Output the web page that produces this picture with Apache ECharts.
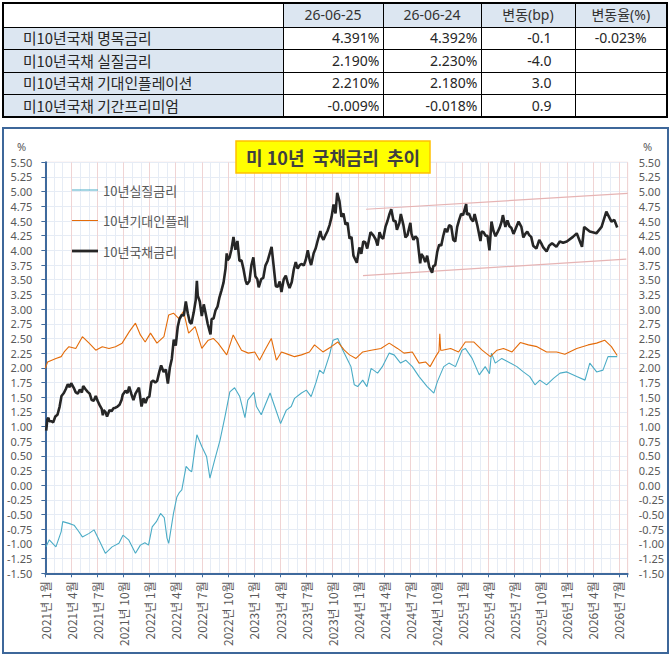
<!DOCTYPE html>
<html><head><meta charset="utf-8">
<script src="https://cdn.jsdelivr.net/npm/echarts/dist/echarts.min.js"></script>
<style>
html,body{margin:0;padding:0;background:#fff;width:672px;height:655px;overflow:hidden;}
#tbl{position:absolute;left:2px;top:2px;width:666px;border-collapse:collapse;table-layout:fixed;border:2px solid #000;font-family:'Noto Sans','Noto Sans CJK KR',sans-serif;color:#262626;}
#tbl td{border:1px solid #000;padding:0;font-size:14px;line-height:18px;white-space:nowrap;overflow:hidden;}
#tbl tr{height:22.5px;}
#tbl tr.h{height:24px;}
#tbl td.hd{background:#DCE6F1;text-align:center;color:#333;}
#tbl td.lb{background:#DCE6F1;text-align:left;padding-left:19px;font-size:14.8px;font-family:'Noto Sans CJK KR','Noto Sans',sans-serif;}
#tbl td.v{text-align:right;padding-right:3px;}
#tbl td.bp{text-align:right;padding-right:23px;}
#tbl td.pc{text-align:center;}
#chartBox{position:absolute;left:2px;top:127px;width:667px;height:527px;border:2px solid #3D679A;box-sizing:border-box;}
#chart{width:663px;height:523px;}
</style>
</head><body>
<table id="tbl"></table>
<div id="chartBox"><div id="chart"></div></div>
<script>
// ---------- table data ----------
const tableHeader = ["", "26-06-25", "26-06-24", "변동(bp)", "변동율(%)"];
const tableLabels = ["미10년국채 명목금리", "미10년국채 실질금리", "미10년국채 기대인플레이션", "미10년국채 기간프리미엄"];
const colToday = ["4.391%", "2.190%", "2.210%", "-0.009%"];
const colPrev = ["4.392%", "2.230%", "2.180%", "-0.018%"];
const colChgBp = ["-0.1", "-4.0", "3.0", "0.9"];
const colChgPct = ["-0.023%", "", "", ""];

// ---------- chart data ----------
const seriesNames = ["10년실질금리", "10년기대인플레", "10년국채금리"];
const realRate = [
["2021-01-03",-1.05],["2021-01-15",-0.93],["2021-02-07",-1.05],["2021-02-24",-0.79],["2021-03-01",-0.62],
["2021-03-23",-0.65],["2021-04-10",-0.68],["2021-04-25",-0.78],["2021-05-09",-0.88],["2021-06-02",-0.82],
["2021-06-19",-0.76],["2021-07-06",-0.93],["2021-07-29",-1.16],["2021-08-22",-1.05],["2021-09-15",-0.99],
["2021-09-29",-0.85],["2021-10-19",-0.93],["2021-11-12",-1.16],["2021-11-29",-1.02],["2021-12-15",-0.98],
["2021-12-28",-1.02],["2022-01-10",-0.71],["2022-01-25",-0.62],["2022-02-08",-0.48],["2022-02-20",-0.55],
["2022-03-01",-0.90],["2022-03-07",-0.99],["2022-03-24",-0.48],["2022-04-05",-0.20],["2022-04-14",-0.12],
["2022-04-22",-0.08],["2022-05-07",0.32],["2022-05-18",0.26],["2022-05-27",0.23],["2022-06-14",0.86],
["2022-07-01",0.66],["2022-07-18",0.49],["2022-07-30",0.12],["2022-08-16",0.43],["2022-09-04",0.77],
["2022-09-21",1.17],["2022-10-08",1.59],["2022-10-25",1.66],["2022-11-12",1.51],["2022-11-30",1.15],
["2022-12-10",1.45],["2023-01-01",1.58],["2023-01-10",1.34],["2023-01-27",1.20],["2023-02-25",1.57],
["2023-03-13",1.34],["2023-04-03",1.05],["2023-04-23",1.28],["2023-05-10",1.34],["2023-05-22",1.48],
["2023-06-15",1.57],["2023-07-02",1.62],["2023-07-19",1.51],["2023-08-06",1.76],["2023-08-18",1.96],
["2023-09-01",1.90],["2023-09-22",2.22],["2023-10-04",2.47],["2023-10-21",2.50],["2023-11-08",2.30],
["2023-11-25",2.13],["2023-12-06",2.02],["2023-12-18",1.71],["2023-12-30",1.68],["2024-01-17",1.79],
["2024-02-01",1.68],["2024-02-15",1.99],["2024-03-08",1.91],["2024-03-25",2.02],["2024-04-18",2.25],
["2024-05-05",2.22],["2024-05-28",2.08],["2024-06-15",2.13],["2024-07-08",2.02],["2024-08-01",1.85],
["2024-08-30",1.68],["2024-09-22",1.57],["2024-10-04",1.76],["2024-10-27",2.02],["2024-11-14",2.08],
["2024-12-07",2.02],["2024-12-30",2.30],["2025-01-11",2.33],["2025-02-04",2.16],["2025-02-27",1.88],
["2025-03-20",2.02],["2025-04-04",1.90],["2025-04-11",2.25],["2025-04-24",2.08],["2025-05-17",2.16],
["2025-06-16",2.08],["2025-07-09",2.02],["2025-08-01",1.93],["2025-08-24",1.85],["2025-09-11",1.71],
["2025-09-28",1.79],["2025-10-22",1.71],["2025-11-15",1.82],["2025-12-08",1.91],["2026-01-01",1.93],
["2026-02-05",1.85],["2026-03-04",1.79],["2026-03-21",2.08],["2026-04-14",1.93],["2026-05-06",1.96],
["2026-05-24",2.19],["2026-06-11",2.19],["2026-06-25",2.19]
];
const breakeven = [
["2021-01-01",1.99],["2021-01-09",2.10],["2021-02-07",2.16],["2021-02-24",2.19],["2021-03-06",2.27],
["2021-03-23",2.36],["2021-04-16",2.33],["2021-05-09",2.53],["2021-06-02",2.42],["2021-06-25",2.30],
["2021-07-18",2.36],["2021-08-11",2.33],["2021-09-03",2.36],["2021-09-26",2.42],["2021-10-22",2.62],
["2021-11-12",2.76],["2021-11-29",2.56],["2021-12-16",2.44],["2022-01-04",2.59],["2022-01-27",2.42],
["2022-02-19",2.53],["2022-03-07",2.90],["2022-03-24",2.93],["2022-04-11",2.84],["2022-04-28",2.96],
["2022-05-16",2.59],["2022-06-08",2.70],["2022-07-01",2.33],["2022-07-24",2.47],["2022-08-11",2.50],
["2022-08-28",2.42],["2022-09-27",2.22],["2022-10-20",2.56],["2022-11-18",2.30],["2022-12-12",2.25],
["2023-01-04",2.27],["2023-01-21",2.13],["2023-02-08",2.30],["2023-03-01",2.50],["2023-03-19",2.13],
["2023-04-06",2.27],["2023-05-04",2.22],["2023-05-22",2.19],["2023-06-15",2.22],["2023-07-13",2.27],
["2023-07-31",2.39],["2023-08-30",2.27],["2023-09-28",2.36],["2023-10-21",2.44],["2023-11-13",2.30],
["2023-12-01",2.22],["2023-12-24",2.16],["2024-01-17",2.27],["2024-02-15",2.30],["2024-03-20",2.33],
["2024-04-18",2.42],["2024-05-17",2.33],["2024-06-09",2.25],["2024-07-08",2.27],["2024-08-01",2.08],
["2024-08-24",2.10],["2024-09-09",2.02],["2024-09-28",2.19],["2024-10-10",2.28],["2024-10-13",2.58],
["2024-10-16",2.30],["2024-10-22",2.30],["2024-11-20",2.33],["2024-12-18",2.27],["2025-01-11",2.44],
["2025-02-09",2.44],["2025-03-09",2.30],["2025-04-07",2.19],["2025-04-30",2.30],["2025-05-23",2.33],
["2025-06-22",2.27],["2025-07-21",2.43],["2025-08-19",2.39],["2025-09-18",2.36],["2025-10-22",2.27],
["2025-11-26",2.27],["2025-12-25",2.23],["2026-02-05",2.33],["2026-03-15",2.39],["2026-04-14",2.42],
["2026-05-12",2.47],["2026-06-05",2.36],["2026-06-25",2.21]
];
const nominal = [
["2021-01-04",0.93],["2021-01-08",1.12],["2021-01-12",1.15],["2021-01-15",1.09],["2021-01-22",1.09],
["2021-01-29",1.07],["2021-02-05",1.17],["2021-02-12",1.20],["2021-02-19",1.34],["2021-02-25",1.52],
["2021-03-05",1.57],["2021-03-12",1.64],["2021-03-19",1.72],["2021-03-26",1.67],["2021-03-31",1.74],
["2021-04-09",1.66],["2021-04-16",1.58],["2021-04-23",1.56],["2021-04-30",1.63],["2021-05-07",1.58],
["2021-05-12",1.69],["2021-05-21",1.63],["2021-05-28",1.59],["2021-06-04",1.56],["2021-06-11",1.45],
["2021-06-18",1.44],["2021-06-25",1.52],["2021-07-02",1.43],["2021-07-09",1.36],["2021-07-16",1.30],
["2021-07-20",1.19],["2021-07-23",1.28],["2021-07-30",1.24],["2021-08-04",1.17],["2021-08-13",1.28],
["2021-08-20",1.26],["2021-08-27",1.31],["2021-09-03",1.32],["2021-09-10",1.34],["2021-09-17",1.37],
["2021-09-24",1.45],["2021-09-28",1.54],["2021-10-08",1.61],["2021-10-15",1.57],["2021-10-21",1.68],
["2021-10-29",1.55],["2021-11-05",1.45],["2021-11-12",1.56],["2021-11-24",1.66],["2021-12-03",1.34],
["2021-12-10",1.48],["2021-12-17",1.40],["2021-12-24",1.49],["2021-12-31",1.51],
["2022-01-07",1.76],["2022-01-14",1.78],["2022-01-21",1.75],["2022-01-28",1.78],["2022-02-04",1.93],
["2022-02-10",2.04],["2022-02-18",1.93],["2022-02-25",1.97],["2022-03-04",1.73],["2022-03-11",2.00],
["2022-03-18",2.15],["2022-03-25",2.48],["2022-04-01",2.38],["2022-04-08",2.70],["2022-04-14",2.83],
["2022-04-22",2.90],["2022-04-29",2.89],["2022-05-06",3.13],["2022-05-13",2.93],["2022-05-20",2.78],
["2022-05-26",2.75],["2022-06-03",2.94],["2022-06-10",3.15],["2022-06-14",3.48],["2022-06-17",3.23],
["2022-06-24",3.13],["2022-07-01",2.88],["2022-07-08",3.08],["2022-07-15",2.92],["2022-07-22",2.75],
["2022-08-01",2.57],["2022-08-05",2.83],["2022-08-12",2.84],["2022-08-19",2.98],["2022-08-26",3.04],
["2022-09-02",3.20],["2022-09-09",3.32],["2022-09-16",3.45],["2022-09-23",3.69],["2022-09-27",3.95],
["2022-09-30",3.83],["2022-10-07",3.88],["2022-10-14",4.02],["2022-10-21",4.23],["2022-10-28",4.01],
["2022-11-04",4.16],["2022-11-11",3.82],["2022-11-18",3.83],["2022-11-25",3.68],["2022-12-02",3.49],
["2022-12-07",3.42],["2022-12-16",3.48],["2022-12-23",3.75],["2022-12-30",3.88],
["2023-01-06",3.56],["2023-01-13",3.51],["2023-01-18",3.37],["2023-01-27",3.51],["2023-02-03",3.53],
["2023-02-10",3.74],["2023-02-17",3.82],["2023-02-24",3.95],["2023-03-02",4.06],["2023-03-10",3.70],
["2023-03-17",3.39],["2023-03-24",3.38],["2023-03-31",3.47],["2023-04-06",3.29],["2023-04-14",3.51],
["2023-04-21",3.57],["2023-04-28",3.44],["2023-05-04",3.36],["2023-05-12",3.46],["2023-05-19",3.67],
["2023-05-26",3.80],["2023-06-02",3.69],["2023-06-09",3.75],["2023-06-16",3.77],["2023-06-23",3.74],
["2023-06-30",3.84],["2023-07-07",4.00],["2023-07-14",3.83],["2023-07-19",3.75],["2023-07-28",3.95],
["2023-08-04",4.03],["2023-08-11",4.16],["2023-08-21",4.33],["2023-08-25",4.24],["2023-09-01",4.18],
["2023-09-08",4.26],["2023-09-15",4.33],["2023-09-22",4.43],["2023-09-29",4.57],["2023-10-06",4.78],
["2023-10-13",4.63],["2023-10-19",4.98],["2023-10-27",4.84],["2023-11-03",4.57],["2023-11-10",4.63],
["2023-11-17",4.44],["2023-11-24",4.47],["2023-12-01",4.20],["2023-12-08",4.23],["2023-12-15",3.91],
["2023-12-27",3.79],
["2024-01-05",4.05],["2024-01-12",3.94],["2024-01-19",4.15],["2024-01-26",4.14],["2024-02-02",4.03],
["2024-02-13",4.31],["2024-02-23",4.25],["2024-03-01",4.19],["2024-03-08",4.08],["2024-03-15",4.31],
["2024-03-22",4.22],["2024-03-28",4.20],["2024-04-05",4.40],["2024-04-12",4.50],["2024-04-19",4.62],
["2024-04-25",4.70],["2024-05-03",4.50],["2024-05-10",4.50],["2024-05-15",4.35],["2024-05-24",4.47],
["2024-05-29",4.62],["2024-06-07",4.43],["2024-06-14",4.22],["2024-06-21",4.26],["2024-07-01",4.47],
["2024-07-05",4.28],["2024-07-12",4.18],["2024-07-19",4.24],["2024-07-26",4.20],["2024-08-05",3.78],
["2024-08-09",3.94],["2024-08-16",3.89],["2024-08-23",3.80],["2024-08-30",3.91],["2024-09-06",3.72],
["2024-09-16",3.62],["2024-09-20",3.73],["2024-09-27",3.75],["2024-10-04",3.98],["2024-10-11",4.10],
["2024-10-18",4.08],["2024-10-25",4.24],["2024-11-01",4.37],["2024-11-08",4.31],["2024-11-15",4.43],
["2024-11-22",4.41],["2024-11-29",4.18],["2024-12-06",4.15],["2024-12-13",4.40],["2024-12-20",4.52],
["2024-12-27",4.62],
["2025-01-03",4.60],["2025-01-14",4.79],["2025-01-17",4.61],["2025-01-24",4.63],["2025-01-31",4.54],
["2025-02-07",4.49],["2025-02-12",4.62],["2025-02-21",4.42],["2025-03-03",4.16],["2025-03-07",4.32],
["2025-03-14",4.31],["2025-03-21",4.25],["2025-03-28",4.25],["2025-04-04",4.00],["2025-04-11",4.49],
["2025-04-18",4.33],["2025-04-25",4.24],["2025-05-02",4.31],["2025-05-09",4.38],["2025-05-16",4.48],
["2025-05-21",4.60],["2025-05-30",4.40],["2025-06-06",4.51],["2025-06-13",4.41],["2025-06-20",4.38],
["2025-06-27",4.28],["2025-07-03",4.35],["2025-07-15",4.49],["2025-07-25",4.40],["2025-08-01",4.22],
["2025-08-08",4.28],["2025-08-15",4.32],["2025-08-22",4.26],["2025-08-29",4.23],["2025-09-05",4.08],
["2025-09-16",4.03],["2025-09-26",4.18],["2025-10-03",4.12],["2025-10-10",4.05],["2025-10-22",3.98],
["2025-10-31",4.08],["2025-11-10",4.12],["2025-11-25",4.06],["2025-12-07",4.15],["2025-12-19",4.13],
["2026-01-01",4.15],["2026-01-23",4.23],["2026-02-05",4.29],["2026-02-22",4.06],["2026-03-01",4.40],
["2026-03-21",4.32],["2026-04-13",4.29],["2026-05-01",4.40],["2026-05-18",4.66],["2026-06-05",4.49],
["2026-06-15",4.52],["2026-06-25",4.39]
];
const trendUpper = [["2024-01-29",4.70],["2026-08-01",4.97]];
const trendLower = [["2024-01-18",3.57],["2026-07-27",3.85]];

// ---------- build table ----------
(function(){
  const t = document.getElementById('tbl');
  const widths = [280, 100, 98, 94, 92];
  let html = '<colgroup>' + widths.map(w => '<col style="width:' + w + 'px">').join('') + '</colgroup>';
  html += '<tr class="h">' + tableHeader.map((h, i) => i === 0 ? '<td></td>' : '<td class="hd">' + h + '</td>').join('') + '</tr>';
  for (let r = 0; r < tableLabels.length; r++) {
    html += '<tr><td class="lb">' + tableLabels[r] + '</td><td class="v">' + colToday[r] + '</td><td class="v">' + colPrev[r] +
      '</td><td class="bp">' + colChgBp[r] + '</td><td class="pc">' + colChgPct[r] + '</td></tr>';
  }
  t.innerHTML = html;
})();

// ---------- chart ----------
function toIdx(s) {
  const p = s.split('-').map(Number);
  const dim = new Date(p[0], p[1], 0).getDate();
  return (p[0] - 2021) * 12 + (p[1] - 1) + (p[2] - 1) / dim;
}
const conv = arr => arr.map(d => [toIdx(d[0]), d[1]]);

const FONT = "'Noto Sans','Noto Sans CJK KR',sans-serif";
const CJK = "'Noto Sans CJK KR',sans-serif";
const AXIS_BLUE = '#3F6A9D';
const LABEL = '#595959';
// legend line icons (invisible move-to points keep the full item box)
const iconThin = 'path://M0,0 M26,14 M0,6.5 L26,6.5 L26,7.5 L0,7.5 Z';
const iconThick = 'path://M0,0 M26,14 M0,5.6 L26,5.6 L26,8.4 L0,8.4 Z';

const chart = echarts.init(document.getElementById('chart'), null, {renderer: 'svg'});
chart.setOption({
  animation: false,
  textStyle: {fontFamily: FONT},
  title: {
    text: '미 10년  국채금리  추이',
    left: 232, top: 12,
    padding: [7, 10],
    backgroundColor: '#FFFF00',
    borderColor: '#FFC000',
    borderWidth: 1.5,
    textStyle: {fontSize: 18, fontWeight: 'bold', color: '#404040', fontFamily: CJK}
  },
  legend: {
    data: [
      {name: seriesNames[0], icon: iconThin, itemStyle: {color: '#4BACC6'}},
      {name: seriesNames[1], icon: iconThin, itemStyle: {color: '#E46C0A'}},
      {name: seriesNames[2], icon: iconThick, itemStyle: {color: '#262626'}}
    ],
    orient: 'vertical',
    left: 68, top: 54,
    itemWidth: 26, itemHeight: 14, itemGap: 16.5,
    padding: 0,
    textStyle: {fontSize: 13, color: LABEL, fontFamily: CJK}
  },
  graphic: [
    {type: 'text', left: 13, top: 12, style: {text: '%', fontSize: 11, fill: LABEL, fontFamily: FONT}},
    {type: 'text', left: 639, top: 12, style: {text: '%', fontSize: 11, fill: LABEL, fontFamily: FONT}}
  ],
  grid: {
    left: 38.7, right: 39, top: 33.3, bottom: 78.7,
    show: true, borderColor: '#EDCFCF', borderWidth: 1
  },
  xAxis: {
    type: 'value', min: 0, max: 67, interval: 3,
    axisLine: {show: true, onZero: false, lineStyle: {color: AXIS_BLUE, width: 2}},
    axisTick: {show: true, length: 4, lineStyle: {color: AXIS_BLUE, width: 1}},
    axisLabel: {
      rotate: 90, margin: 8, fontSize: 12, color: LABEL, fontFamily: CJK,
      formatter: function (v) {
        const r = Math.round(v);
        if (Math.abs(v - r) > 1e-6 || r % 3 !== 0 || r > 66) return '';
        return (2021 + Math.floor(r / 12)) + '년 ' + (r % 12 + 1) + '월';
      }
    },
    splitLine: {show: true, lineStyle: {color: '#F0D4D4', width: 1}},
    minorTick: {show: false, splitNumber: 3},
    minorSplitLine: {show: true, lineStyle: {color: '#E6ECF5', width: 1}}
  },
  yAxis: [
    {
      type: 'value', min: -1.5, max: 5.5, interval: 0.25, position: 'left',
      axisLine: {show: true, onZero: false, lineStyle: {color: AXIS_BLUE, width: 2}},
      axisTick: {show: true, length: 4, lineStyle: {color: AXIS_BLUE, width: 1}},
      axisLabel: {margin: 13, fontSize: 11, color: LABEL, formatter: v => v.toFixed(2)},
      splitLine: {show: true, lineStyle: {color: '#E6ECF5', width: 1}}
    },
    {
      type: 'value', min: -1.5, max: 5.5, interval: 0.25, position: 'right',
      axisLine: {show: false}, axisTick: {show: false},
      axisLabel: {margin: 11, fontSize: 11, color: LABEL, formatter: v => v.toFixed(2)},
      splitLine: {show: false}
    }
  ],
  series: [
    {name: seriesNames[0], type: 'line', data: conv(realRate), symbol: 'none', showSymbol: false,
      lineStyle: {color: '#4BACC6', width: 1.1}, itemStyle: {color: '#4BACC6'}, z: 3},
    {name: seriesNames[1], type: 'line', data: conv(breakeven), symbol: 'none', showSymbol: false,
      lineStyle: {color: '#E46C0A', width: 1.1}, itemStyle: {color: '#E46C0A'}, z: 4},
    {name: seriesNames[2], type: 'line', data: conv(nominal), symbol: 'none', showSymbol: false,
      lineStyle: {color: '#262626', width: 2.6}, itemStyle: {color: '#262626'}, z: 5},
    {name: 'trendUpper', type: 'line', data: conv(trendUpper), symbol: 'none', silent: true,
      lineStyle: {color: '#E6B4B4', width: 1.2}, z: 2},
    {name: 'trendLower', type: 'line', data: conv(trendLower), symbol: 'none', silent: true,
      lineStyle: {color: '#E6B4B4', width: 1.2}, z: 2}
  ]
});
</script>
</body></html>
